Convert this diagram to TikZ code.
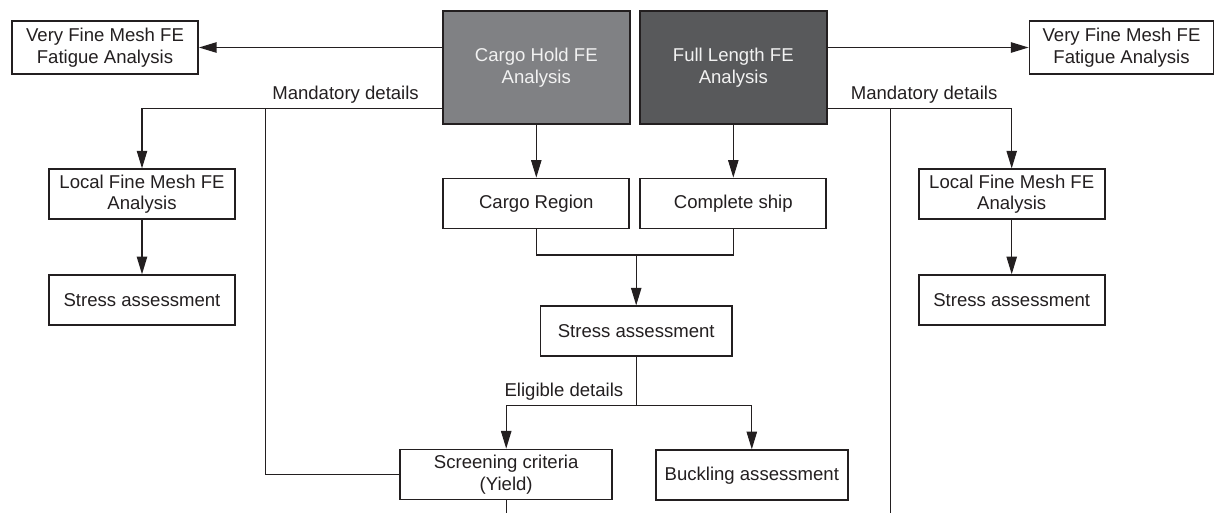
\documentclass[tikz,border=0pt]{standalone}
\usepackage{fontspec}
\setmainfont{Liberation Sans}
\usepackage{xcolor}
\usepackage{tikz}
\usetikzlibrary{arrows.meta,positioning,calc}

\definecolor{inkclr}{RGB}{35,31,32}
\definecolor{holdgray}{RGB}{128,129,132}
\definecolor{fullgray}{RGB}{88,89,91}
\definecolor{paletext}{RGB}{242,242,242}

\tikzset{
  fcbox/.style={draw=inkclr, line width=1.3pt, fill=white, text=inkclr, minimum width=4.65cm, minimum height=1.25cm, inner sep=0pt, align=center},
  fenode/.style={fcbox, minimum width=4.68cm, minimum height=2.84cm, text=paletext},
  link/.style={draw=inkclr, line width=0.8pt},
}

\begin{document}
\begin{tikzpicture}[x=0.025cm, y=-0.025cm, >={Triangle[length=4.4mm,width=2.6mm]}, node distance=1.31cm, every node/.style={font=\fontsize{13.2}{15.5}\selectfont, text=inkclr}]
\useasboundingbox (0,0) rectangle (1215,513);
% top row
\node (hold) [fenode, fill=holdgray] at (536.3,67.5) {Cargo Hold FE\\Analysis};
\node (full) [fenode, fill=fullgray] at (733.3,67.5) {Full Length FE\\Analysis};
\node (vfmL) [fcbox, minimum height=1.33cm] at (105,47.5) {Very Fine Mesh FE\\Fatigue Analysis};
\node (vfmR) [fcbox, minimum height=1.33cm, minimum width=4.6cm] at (1121.5,47.5) {Very Fine Mesh FE\\Fatigue Analysis};
% second row
\node (region) [fcbox, below=of hold] {Cargo Region};
\node (ship) [fcbox, below=of full] {Complete ship};
\node (lfmL) [fcbox] at (142,194.3) {Local Fine Mesh FE\\Analysis};
\node (lfmR) [fcbox] at (1011.7,194.3) {Local Fine Mesh FE\\Analysis};
\node (stressL) [fcbox, below=1.35cm of lfmL] {Stress assessment};
\node (stressR) [fcbox, below=1.35cm of lfmR] {Stress assessment};
% middle column
\node (stressM) [fcbox, minimum width=4.78cm] at (636.2,331.3) {Stress assessment};
\node (screen) [fcbox, minimum width=5.3cm] at (506.2,474.5) {Screening criteria\\(Yield)};
\node (buckle) [fcbox, minimum width=4.8cm] at (751.8,475.2) {Buckling assessment};

% branch points
\coordinate (tapL) at (hold.west |- 0,108.5);
\coordinate (tapR) at (full.east |- 0,108.5);
\coordinate (splitL) at (265.7,108.5);
\coordinate (splitR) at (890.7,108.5);
\coordinate (endR) at (890.7,513);
\coordinate (merge) at (stressM.north |- 0,255);
\coordinate (fork) at (stressM.south |- 0,405.7);
\coordinate (endM) at (screen.south |- 0,513);

\node (mandL) [anchor=base east] at ($(tapL)+(-18,-9.5)$) {Mandatory details};
\node (mandR) [anchor=base west] at ($(tapR)+(18,-9.5)$) {Mandatory details};
\node (elig) [anchor=base east] at ($(fork)+(-8,-9)$) {Eligible details};

\draw[link, ->] (hold.west |- vfmL.east) -- (vfmL.east);
\draw[link, ->] (full.east |- vfmR.west) -- (vfmR.west);
\draw[link, ->] (hold) -- (region);
\draw[link, ->] (full) -- (ship);
\draw[link, ->] (tapL) -| (lfmL.north);
\draw[link, ->] (tapR) -| (lfmR.north);
\draw[link] (splitL) |- (screen.west);
\draw[link] (splitR) -- (endR);
\draw[link, ->] (lfmL) -- (stressL);
\draw[link, ->] (lfmR) -- (stressR);
\draw[link] (region.south) |- (merge) -| (ship.south);
\draw[link, ->] (merge) -- (stressM.north);
\draw[link] (stressM.south) -- (fork);
\draw[link, ->] (fork) -| (screen.north);
\draw[link, ->] (fork) -| (buckle.north);
\draw[link] (screen.south) -- (endM);
\end{tikzpicture}
\end{document}
